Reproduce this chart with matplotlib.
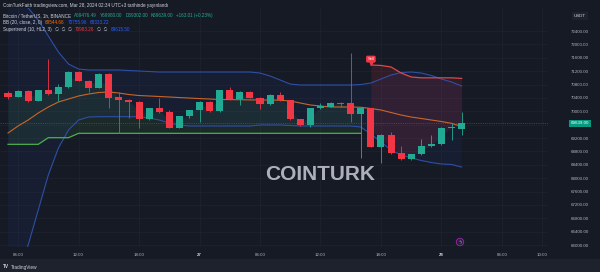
import numpy as np
import matplotlib
matplotlib.use("Agg")
import matplotlib.pyplot as plt
from matplotlib.patches import Rectangle

plt.rcParams['font.family'] = ['Liberation Sans', 'DejaVu Sans']

# BTCUSDT 1h candles, 26 Mar 05:00 -> 28 Mar 02:00
opens = [70555, 70436, 70615, 70307, 70636, 70508, 70717, 71165, 70914, 70705,
         71114, 70418, 70337, 70286, 69760, 70089, 69969, 69509, 69859, 70038,
         70286, 70010, 70636, 70358, 70585, 70406, 70208, 70496, 70337, 69760,
         69590, 70089, 70137, 70256, 70247, 69918, 70089, 68941, 69290, 68743,
         68564, 68713, 68962, 69012, 69500, 69476]
highs = [70615, 70640, 70630, 70650, 71554, 70806, 71200, 71200, 70930, 71130,
         71130, 70585, 70360, 70300, 70100, 70406, 70040, 69870, 70050, 70300,
         70300, 70650, 70735, 70600, 70600, 70420, 70510, 70567, 70350, 69780,
         70100, 70240, 70270, 70290, 71751, 70100, 70110, 69310, 69380, 68962,
         68730, 69167, 69290, 69520, 69650, 69980]
lows = [70358, 70420, 70290, 70300, 70480, 70307, 70700, 70900, 70585, 70690,
        70107, 69350, 69799, 69500, 69740, 69950, 69490, 69490, 69800, 69688,
        69990, 69990, 70340, 70190, 70390, 70068, 70190, 70320, 69740, 69570,
        69539, 70070, 70120, 70140, 69688, 68603, 68920, 68453, 68720, 68540,
        68540, 68700, 68940, 68990, 69141, 69302]
closes = [70436, 70615, 70307, 70636, 70508, 70717, 71165, 70914, 70705, 71114,
          70406, 70337, 70268, 69760, 70089, 69969, 69509, 69859, 70038, 70286,
          70010, 70636, 70358, 70585, 70406, 70208, 70496, 70337, 69760, 69590,
          70089, 70149, 70256, 70217, 69918, 70089, 68941, 69290, 68743, 68564,
          68713, 68962, 69012, 69509, 69539, 69639]

# Bollinger bands (20, 2)
bb_upper = [73776, 73387, 73088, 72729, 72251, 71772, 71414, 71264, 71234, 71234,
            71234, 71234, 71219, 71204, 71189, 71174, 71174, 71174, 71174, 71174,
            71174, 71174, 71174, 71174, 71174, 71144, 71055, 70935, 70815, 70786,
            70786, 70786, 70786, 70786, 70786, 70800, 70845, 70965, 71084, 71159,
            71174, 71144, 71070, 70965, 70875, 70756]
bb_mid = [69350, 69560, 69739, 69948, 70128, 70277, 70367, 70457, 70516, 70561,
          70576, 70546, 70501, 70471, 70457, 70442, 70427, 70410, 70395, 70380,
          70367, 70352, 70350, 70345, 70340, 70337, 70337, 70330, 70307, 70247,
          70188, 70158, 70128, 70128, 70128, 70120, 70083, 70038, 69963, 69888,
          69828, 69784, 69739, 69694, 69640, 69545]
bb_lower = [64357, 65105, 66002, 67048, 68094, 68902, 69440, 69739, 69829, 69838,
            69838, 69838, 69838, 69838, 69799, 69739, 69650, 69590, 69560, 69560,
            69560, 69560, 69560, 69560, 69560, 69590, 69590, 69590, 69575, 69560,
            69560, 69560, 69560, 69560, 69560, 69530, 69320, 69081, 68842, 68692,
            68603, 68528, 68468, 68424, 68409, 68333]

# Supertrend (10, HL2, 3): up-trend until bar 35, down-trend from bar 36
st_up = [69012, 69012, 69012, 69012, 69210, 69210, 69210] + [69341] * 29
st_down = [71384, 71370, 71324, 71144, 71025, 71000, 71000, 71000, 71000, 70983]
flip = 36

price_ticks = list(range(66000, 72401, 400))
time_pos = [1, 7, 13, 19, 25, 31, 37, 43, 49, 53]
time_labels = ['06:00', '12:00', '18:00', '27', '06:00', '12:00', '18:00', '28', '06:00', '10:00']
last_price = 69639.00

bg = '#161a25'
up_c = '#22ab94'
dn_c = '#f23645'
txt_c = '#b2b5be'

fig = plt.figure(figsize=(6, 2.72), dpi=100, facecolor=bg)
ax = fig.add_axes([0, 25 / 272, 548 / 600, 239 / 272], facecolor=bg)
ax.set_xlim(-0.794, 53.57)
ax.set_ylim(65942, 73088)
for s in ax.spines.values():
    s.set_visible(False)

x = np.arange(len(opens))
o = np.array(opens)
c = np.array(closes)
mid_body = (o + c) / 2

# bollinger bands
ax.fill_between(x, bb_lower, bb_upper, color='#2962ff', alpha=0.06, lw=0, zorder=1)
ax.plot(x, bb_upper, color='#2e4fa8', lw=0.8, zorder=2)
ax.plot(x, bb_lower, color='#2e4fa8', lw=0.8, zorder=2)
ax.plot(x, bb_mid, color='#c8662a', lw=0.8, zorder=2)

# supertrend
xu = x[:flip]
xd = x[flip:]
ax.fill_between(xu, st_up, mid_body[:flip], color='#4caf50', alpha=0.10, lw=0, zorder=1)
ax.fill_between(xd, st_down, mid_body[flip:], color='#f23645', alpha=0.12, lw=0, zorder=1)
ax.plot(xu, st_up, color='#4caf50', lw=0.9, zorder=2)
ax.plot(xd, st_down, color='#e0474c', lw=0.9, zorder=2)

# candles
cols = [up_c if cl >= op else dn_c for op, cl in zip(opens, closes)]
ax.vlines(x, lows, highs, colors=cols, lw=0.6, zorder=3)
ax.bar(x, np.maximum(np.abs(c - o), 12), bottom=np.minimum(o, c), width=0.7,
       color=cols, lw=0, zorder=4)

# sell label
ax.plot(flip, 71440, marker='v', ms=2.2, color=dn_c, zorder=5)
ax.text(flip, 71560, 'Sell', fontsize=3, color='white', ha='center', va='center', zorder=6,
        bbox=dict(boxstyle='round,pad=0.35', fc=dn_c, ec='none'))

# last price line + label
ax.axhline(last_price, color='#5d606b', lw=0.4, ls=(0, (2, 2)), zorder=1)
ax.annotate(f'{last_price:.2f}', xy=(1, last_price), xycoords=('axes fraction', 'data'),
            xytext=(23, 0), textcoords='offset points', ha='center', va='center',
            fontsize=3.2, color='white', annotation_clip=False,
            bbox=dict(boxstyle='square,pad=0.4', fc='#089981', ec='none'))

# axes (the tick hidden under the last-price label is left blank, as on the chart)
ax.yaxis.tick_right()
ax.set_yticks(price_ticks)
ax.set_yticklabels(['' if abs(v - last_price) < 200 else f'{v:.2f}' for v in price_ticks])
ax.tick_params(axis='y', length=0, pad=23, labelsize=3.2, labelcolor=txt_c)
for lab in ax.get_yticklabels():
    lab.set_ha('center')
ax.set_xticks(time_pos)
ax.set_xticklabels(time_labels)
ax.tick_params(axis='x', length=0, pad=4.5, labelsize=3.2, labelcolor=txt_c)
for lab in ax.get_xticklabels():
    if lab.get_text() in ('27', '28'):
        lab.set_color('#d1d4dc')
        lab.set_fontweight('bold')
ax.grid(True, color='#1f2330', lw=0.5, zorder=0)
ax.set_axisbelow(True)

# watermark
ax.text(320 / 548, (247 - 175) / 239, 'COINTURK', transform=ax.transAxes, fontsize=15,
        fontweight='bold', color='#c9ccd3', alpha=0.85, ha='center', va='center', zorder=7)

# bottom bar
fig.add_artist(Rectangle((0, 0), 1, 13 / 272, transform=fig.transFigure,
                         color='#1e222d', zorder=0))

renderer = fig.canvas.get_renderer()


def put_row(x_px, y_px, parts, size=3.3, gap=3):
    for s, col, wt in parts:
        t = fig.text(x_px / 600, 1 - y_px / 272, s, color=col, fontsize=size,
                     fontweight=wt, ha='left', va='center')
        x_px += t.get_window_extent(renderer=renderer).width + gap


put_row(3, 5, [('CoinTurkFaith tradingview.com, Mar 28, 2024 02:34 UTC+3 tarihinde yayınlandı',
                '#d1d4dc', 'normal')])
put_row(3, 15.5, [('Bitcoin / TetherUS, 1h, BINANCE', '#d1d4dc', 'normal'),
                  ('A69476.49', up_c, 'normal'), ('Y69980.00', up_c, 'normal'),
                  ('D69302.00', up_c, 'normal'), ('K69639.00', up_c, 'normal'),
                  ('+163.01 (+0.23%)', up_c, 'normal')])
put_row(3, 22.5, [('BB (20, close, 2, 0)', '#d1d4dc', 'normal'),
                  ('69544.66', '#ff6d00', 'normal'), ('70755.96', '#2962ff', 'normal'),
                  ('68333.22', '#2962ff', 'normal')])
put_row(3, 29.3, [('Supertrend (10, HL2, 3)', '#d1d4dc', 'normal'),
                  ('∅  ∅  ∅', '#d1d4dc', 'normal'), ('70983.26', dn_c, 'normal'),
                  ('∅  ∅', '#d1d4dc', 'normal'), ('69615.50', '#2962ff', 'normal')])

fig.text(580 / 600, 1 - 16 / 272, 'USDT', fontsize=3.2, color='#d1d4dc', ha='center', va='center',
         bbox=dict(boxstyle='square,pad=0.5', fc='#1e222d', ec='none'))
fig.text(460 / 600, 1 - 242 / 272, 'ϟ', fontsize=3.5, color='#ce93d8', ha='center', va='center',
         family='DejaVu Sans',
         bbox=dict(boxstyle='circle,pad=0.25', fc='#2a1f3d', ec='#9c27b0', lw=0.6))
put_row(3, 267, [('TV', '#d1d4dc', 'bold'), ('TradingView', '#d1d4dc', 'normal')], size=3.4, gap=2)

fig.savefig('out.png', dpi=100, facecolor=bg)
